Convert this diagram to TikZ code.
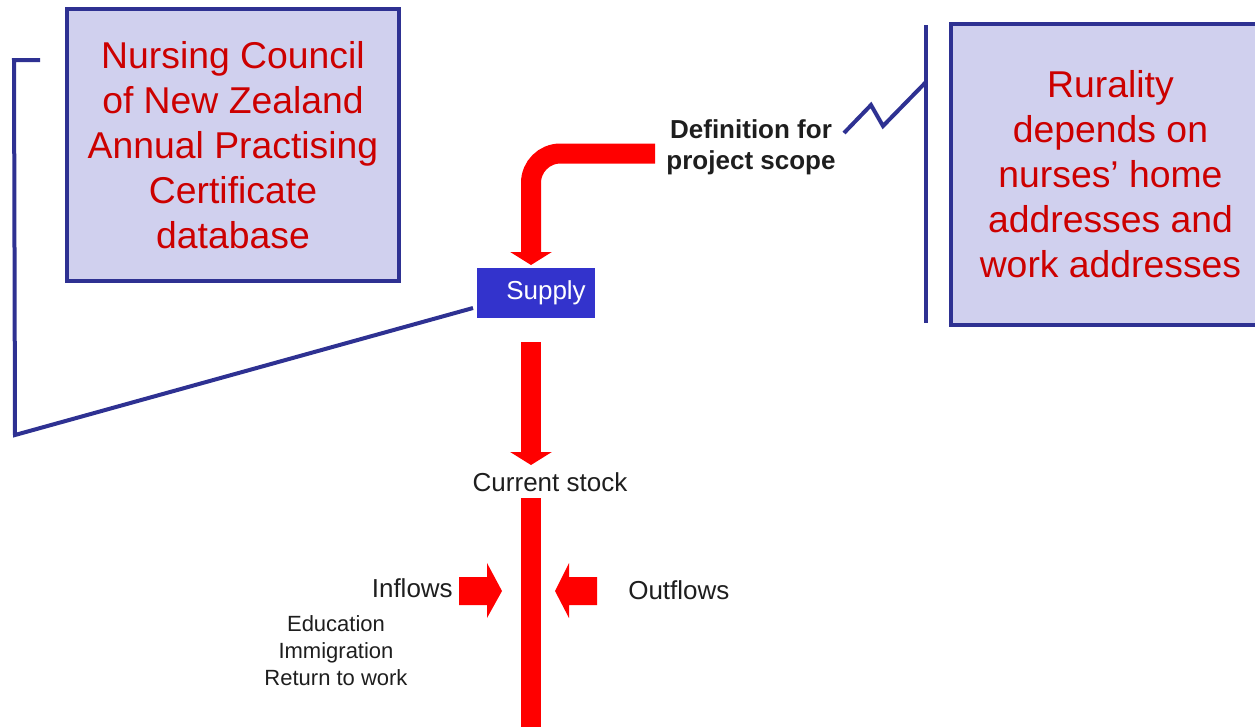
\documentclass[tikz,border=0pt]{standalone}
\usepackage{fontspec}
\setmainfont{Liberation Sans}
\usetikzlibrary{arrows.meta}
\definecolor{navy}{RGB}{46,49,146}
\definecolor{lav}{RGB}{208,208,238}
\definecolor{redtxt}{RGB}{204,0,0}
\definecolor{supblue}{RGB}{51,51,204}
\definecolor{flowred}{RGB}{255,0,0}
\definecolor{ink}{RGB}{30,30,30}
\tikzset{
  infobox/.style={draw=navy, fill=lav, line width=3.2pt, text=redtxt, align=center,
    font=\fontsize{28pt}{33.75pt}\selectfont, inner sep=0pt},
  bracket/.style={draw=navy, line width=3pt},
  flow/.style={draw=flowred, line width=15pt},
  flowtip/.style={-{Triangle[width=30.75pt,length=9.75pt]}},
  label/.style={text=ink, font=\fontsize{19.5pt}{23.4pt}\selectfont, inner sep=0pt},
  small/.style={text=ink, font=\fontsize{16.5pt}{20.25pt}\selectfont, align=center, inner sep=0pt},
  blockarrow/.style={fill=flowred}
}
\begin{document}
\begin{tikzpicture}[x=0.75pt,y=-0.75pt]
\useasboundingbox (0,0) rectangle (1255,726);
\clip (0,0) rectangle (1255,726);
% boxes
\node[infobox, minimum width=249pt, minimum height=204pt] (ncnz) at (233,145)
  {Nursing Council\\of New Zealand\\Annual Practising\\Certificate\\database};
\node[infobox, minimum width=239.25pt, minimum height=225.75pt] (rural) at (1110.5,174.5)
  {Rurality\\depends on\\nurses’ home\\addresses and\\work addresses};
\node[fill=supblue, text=white, minimum width=88.5pt, minimum height=37.5pt, inner sep=0pt,
  font=\fontsize{19.5pt}{23.4pt}\selectfont] (supply) at (536,293) {\hspace*{15pt}Supply};
\node[label, align=center, font=\bfseries\fontsize{19.5pt}{23.25pt}\selectfont] (defn) at (751,147)
  {Definition for\\project scope};
\node[label] (stock) at (550,482) {Current stock};
\node[label, anchor=east] (inflows) at (453,588) {Inflows};
\node[label, anchor=west] (outflows) at (628,590) {Outflows};
\node[small] (sources) at (336,651) {Education\\Immigration\\Return to work};
% red flows
\coordinate (defstart) at (655,153.5);
\coordinate (suptop) at (531,265);
\draw[flow, flowtip, rounded corners=22pt] (defstart) -| (suptop);
\coordinate (supbot) at (531,342);
\coordinate (stocktop) at (531,465);
\draw[flow, flowtip] (supbot) -- (stocktop);
\coordinate (stockbot) at (531,498);
\coordinate (bottom) at (531,740);
\draw[flow] (stockbot) -- (bottom);
% inflow / outflow block arrows
\fill[blockarrow] (459,577) -- (487,577) -- (487,563) -- (502,591) -- (487,618) -- (487,605) -- (459,605) -- cycle;
\fill[blockarrow] (597,577) -- (569,577) -- (569,563) -- (555,591) -- (569,618) -- (569,605) -- (597,605) -- cycle;
% left bracket
\coordinate (lb1) at (40,60);
\coordinate (lb2) at (14,60);
\coordinate (lb3) at (15,435);
\coordinate (lb4) at (473,308);
\draw[bracket] (lb1) -- (lb2) -- (lb3) -- (lb4);
% right bracket
\coordinate (rb1) at (926,25);
\coordinate (rb2) at (926,323);
\draw[bracket] (rb1) -- (rb2);
\coordinate (z0) at (844,133);
\coordinate (z1) at (871,105);
\coordinate (z2) at (883,126);
\coordinate (z3) at (926,82);
\draw[bracket] (z0) -- (z1) -- (z2) -- (z3);
\end{tikzpicture}
\end{document}
